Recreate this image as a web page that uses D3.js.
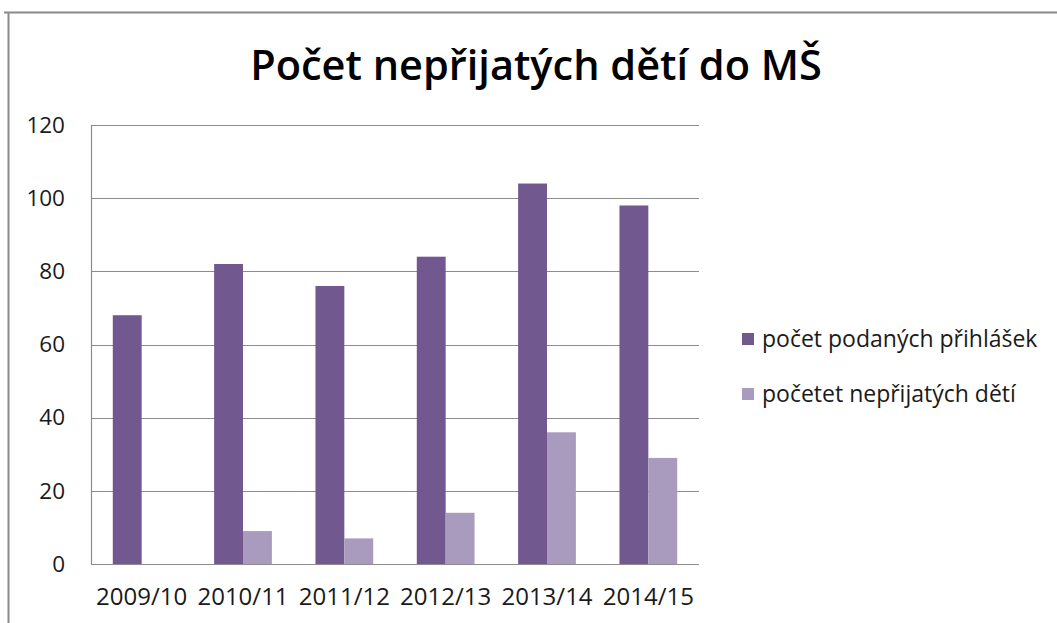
<!DOCTYPE html>
<html><head><meta charset="utf-8">
<script src="https://cdn.jsdelivr.net/npm/d3@7"></script>
<style>body{margin:0;background:#fff;}svg{display:block;}</style>
</head><body>
<svg id="c" width="1057" height="623"></svg>
<script>
const title = "Počet nepřijatých dětí do MŠ";
const categories = ["2009/10","2010/11","2011/12","2012/13","2013/14","2014/15"];
const seriesNames = ["počet podaných přihlášek","početet nepřijatých dětí"];
const applications = [68, 82, 76, 84, 104, 98];
const rejected = [0, 9, 7, 14, 36, 29];
const yTicks = [0, 20, 40, 60, 80, 100, 120];
const colors = ["#71588f", "#a99bbd"];

const svg = d3.select("#c");
const font = "'Open Sans', 'Noto Sans', sans-serif";
// chart border
svg.append("path").attr("d","M4,12.5 H1057 M8.5,12 V623")
  .attr("stroke","#8a8a8a").attr("stroke-width",2).attr("fill","none");

const m = {l:91, r:699, t:125, b:564};
const x = d3.scaleBand().domain(categories).range([m.l, m.r]).paddingInner(0.43).paddingOuter(0.215);
const xs = d3.scaleBand().domain([0,1]).range([0, x.bandwidth()]);
const y = d3.scaleLinear().domain([0,120]).range([m.b, m.t]);

// gridlines
svg.append("g").selectAll("line").data(yTicks).join("line")
  .attr("x1", m.l).attr("x2", m.r)
  .attr("y1", d => Math.round(y(d))+0.5).attr("y2", d => Math.round(y(d))+0.5)
  .attr("stroke","#8c8c8c").attr("stroke-width",1.2);
svg.append("line").attr("x1",m.l+0.5).attr("x2",m.l+0.5).attr("y1",m.t).attr("y2",m.b)
  .attr("stroke","#8c8c8c").attr("stroke-width",1.2);

// y axis labels
const ya = svg.append("g").attr("transform",`translate(${m.l},0)`)
  .call(d3.axisLeft(y).tickValues(yTicks).tickSize(0).tickPadding(26));
ya.select(".domain").remove();
ya.selectAll("text").attr("font-family",font).attr("font-size",22.5).attr("fill","#1a1a1a");

// x axis labels
const xa = svg.append("g").attr("transform",`translate(0,${m.b})`)
  .call(d3.axisBottom(x).tickSize(0).tickPadding(24));
xa.select(".domain").remove();
xa.selectAll("text").attr("font-family",font).attr("font-size",24).attr("fill","#1a1a1a");

// bars
const data = [applications, rejected];
data.forEach((vals, si) => {
  svg.append("g").selectAll("rect").data(vals).join("rect")
    .attr("x", (d,i) => x(categories[i]) + xs(si))
    .attr("width", xs.bandwidth())
    .attr("y", d => y(d))
    .attr("height", d => y(0) - y(d))
    .attr("fill", colors[si]);
});

// title
svg.append("text").attr("x", 536).attr("y", 80).attr("text-anchor","middle")
  .attr("font-family",font).attr("font-weight","600").attr("font-size",41.5)
  .attr("fill","#000").text(title);

// legend
const lg = svg.append("g").attr("transform","translate(742,0)");
seriesNames.forEach((n,i) => {
  const cy = 339 + i*55;
  lg.append("rect").attr("x",0).attr("y",cy-6).attr("width",12).attr("height",12).attr("fill",colors[i]);
  lg.append("text").attr("x",20).attr("y",cy+8).attr("font-family",font).attr("font-size",23)
    .attr("fill","#1a1a1a").text(n);
});
</script>
</body></html>
